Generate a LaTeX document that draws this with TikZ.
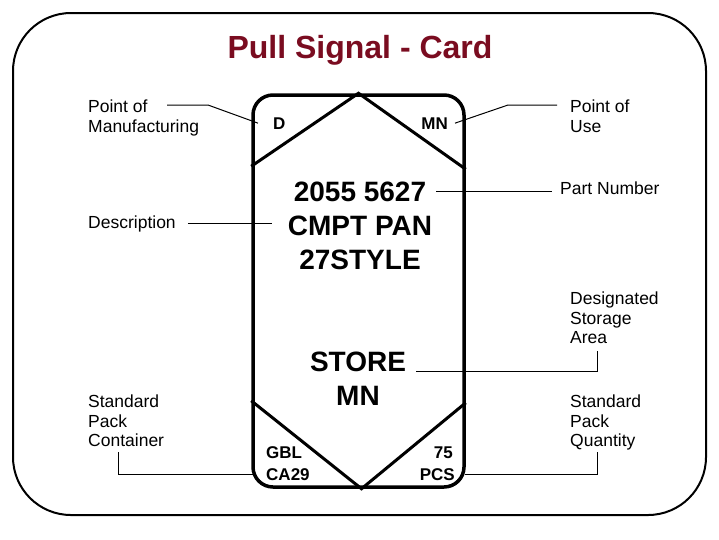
\documentclass[tikz,border=0pt]{standalone}
\usepackage{fontspec}
\setmainfont{Liberation Sans}
\usetikzlibrary{positioning}
\definecolor{titlered}{RGB}{122,12,32}
\tikzstyle{lbl} = [inner sep=0pt, align=left, anchor=north west, font=\fontsize{17.5}{19.5}\selectfont]
\tikzstyle{cardtext} = [inner sep=0pt, font=\fontsize{28}{34}\selectfont\bfseries]
\tikzstyle{cornertext} = [inner sep=0pt, font=\fontsize{17}{20}\selectfont\bfseries]
\tikzstyle{leader} = [line width=1pt]
\tikzstyle{cardline} = [line width=3pt]

\begin{document}
\begin{tikzpicture}[x=1pt,y=-1pt,node distance=34pt]
                \useasboundingbox (0,0) rectangle (719,539);
                \draw [line width=2pt, rounded corners=58pt] (13,13) rectangle (706,515);
                \node (title) [anchor=base, inner sep=0pt, text=titlered, font=\fontsize{32}{36}\selectfont\bfseries] at (360,58) {Pull Signal - Card};

                % the card
                \node (card) [draw, line width=3.5pt, rounded corners=20pt, minimum width=211pt, minimum height=392pt, inner sep=0pt] at (358.5,291) {};
                \draw [cardline] ([yshift=-73pt]card.north west) -- (card.north) -- ([yshift=-76pt]card.north east);
                \draw [cardline] ([yshift=88pt]card.south west) -- ([xshift=3pt]card.south) -- ([yshift=86pt]card.south east);

                \node (mfgcode) [cornertext, anchor=base west] at (273,129) {D};
                \node (usecode) [cornertext, anchor=base east] at (448,129) {MN};
                \node (gbl) [cornertext, anchor=base west] at (266,458) {GBL};
                \node (ca) [cornertext, anchor=base west] at (266,480) {CA29};
                \node (qty) [cornertext, anchor=base east] at (453,458) {75};
                \node (pcs) [cornertext, anchor=base east] at (455,480) {PCS};

                \node (partno) [cardtext, anchor=base] at (360,201) {2055 5627};
                \node (cmpt) [cardtext, below of=partno] {CMPT PAN};
                \node (style27) [cardtext, below of=cmpt] {27STYLE};
                \node (store) [cardtext, anchor=base] at (358,371) {STORE};
                \node (storemn) [cardtext, below of=store] {MN};

                % labels
                \node (pomlbl) [lbl] at (88,100) {Point of\\Manufacturing};
                \node (poulbl) [lbl] at (570,100) {Point of\\Use};
                \node (partlbl) [lbl, anchor=base west] at (560,194) {Part Number};
                \node (desclbl) [lbl, anchor=base west] at (88,228) {Description};
                \node (dsalbl) [lbl] at (570,292) {Designated\\Storage\\Area};
                \node (spclbl) [lbl] at (88,395) {Standard\\Pack\\Container};
                \node (spqlbl) [lbl] at (570,395) {Standard\\Pack\\Quantity};

                \coordinate (pomtip) at (167,105);
                \coordinate (poutip) at (557,105);
                \coordinate (dsatip) at (597,351);
                \coordinate (spctip) at (118,452);
                \coordinate (spqtip) at (597,452);

                \draw [leader] (pomtip) -- (208,105) -- ([xshift=-15pt]mfgcode.west);
                \draw [leader] ([xshift=7pt]usecode.east) -- (508,105) -- (poutip);
                \draw [leader] ([xshift=10pt]partno.east) -- ([xshift=-8pt]partno.east -| partlbl.west);
                \draw [leader] ([xshift=12pt]desclbl.east) -- ([xshift=-16pt]desclbl.east -| cmpt.west);
                \draw [leader] ([xshift=10pt]store.base east) -| (dsatip);
                \draw [leader] (spctip) |- ([xshift=-13pt]ca.west);
                \draw [leader] ([xshift=10pt]pcs.east) -| (spqtip);
\end{tikzpicture}
\end{document}
